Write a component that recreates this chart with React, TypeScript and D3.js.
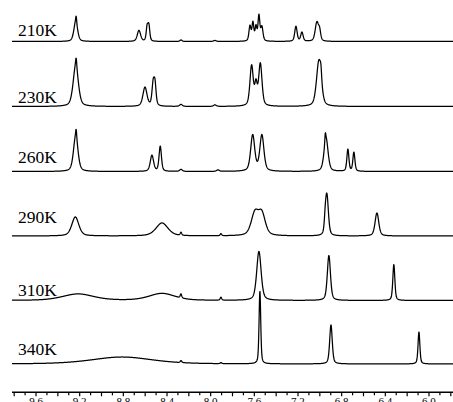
import React from "react";
import * as d3 from "d3";

// Temperatures (spectrum labels), top to bottom
const temperatures = ["210K", "230K", "260K", "290K", "310K", "340K"];

// Peak lists per spectrum: [chemical shift (ppm), intensity, half-width (ppm)]
const peaks210: [number, number, number][] = [
  [9.236, 20, 0.02], [9.232, 6, 0.005],
  [8.657, 11, 0.018],
  [8.582, 14, 0.01], [8.566, 15, 0.01],
  [8.272, 1.5, 0.012], [7.961, 1, 0.015],
  [7.640, 15, 0.011], [7.613, 18, 0.01], [7.585, 14, 0.01], [7.558, 25, 0.01], [7.531, 14, 0.012],
  [7.219, 15, 0.013], [7.164, 9, 0.013], [7.027, 19, 0.018], [7.002, 9, 0.012],
];
const peaks230: [number, number, number][] = [
  [9.236, 41, 0.028], [9.232, 8, 0.006],
  [8.602, 19, 0.022],
  [8.527, 21, 0.013], [8.510, 20, 0.012],
  [8.272, 2, 0.015], [7.961, 1.5, 0.015],
  [7.625, 40, 0.018], [7.585, 20, 0.013], [7.545, 42, 0.018],
  [7.008, 46, 0.026], [6.99, 10, 0.008],
];
const peaks260: [number, number, number][] = [
  [9.236, 36, 0.024], [9.232, 7, 0.005],
  [8.538, 16, 0.018], [8.462, 25, 0.013],
  [8.272, 2, 0.015], [7.933, 1.5, 0.015],
  [7.615, 36, 0.022], [7.531, 36, 0.022],
  [6.943, 33, 0.022], [6.95, 8, 0.005],
  [6.743, 22, 0.011], [6.688, 19, 0.011],
];
const peaks290: [number, number, number][] = [
  [9.240, 19, 0.038],
  [8.446, 13, 0.065],
  [8.272, 3, 0.008], [7.906, 2, 0.008],
  [7.595, 22, 0.04], [7.531, 21, 0.038],
  [6.935, 40, 0.016], [6.95, 10, 0.01],
  [6.477, 23, 0.02],
];
const peaks310: [number, number, number][] = [
  [9.215, 6.5, 0.17],
  [8.446, 7, 0.14],
  [8.272, 4, 0.008], [7.906, 3, 0.008],
  [7.558, 49, 0.024],
  [6.917, 45, 0.017],
  [6.322, 36, 0.011],
];
const peaks340: [number, number, number][] = [
  [8.812, 7, 0.33],
  [8.272, 2, 0.008], [7.906, 1, 0.008],
  [7.549, 73, 0.009],
  [6.898, 39, 0.014],
  [6.092, 32, 0.01],
];

const spectra = [peaks210, peaks230, peaks260, peaks290, peaks310, peaks340];

// Axis ticks (ppm)
const tickLabels = ["9.6", "9.2", "8.8", "8.4", "8.0", "7.6", "7.2", "6.8", "6.4", "6.0"];

const W = 453;
const H = 402;

export default function App() {
  const x = d3.scaleLinear().domain([9.82, 5.78]).range([12, 453]);
  const baselines = [41.5, 106.5, 171.5, 236, 300.5, 364];
  const labelOffsets = [5.5, 4, 9, 13.5, 4.5, 9];
  const y = d3.scaleLinear().domain([0, 100]).range([0, -100]);
  const eta = 0.45;
  const profile = (ppm: number, list: [number, number, number][]) =>
    list.reduce((s, [c, h, w]) => {
      const u = (ppm - c) / w;
      const u2 = u * u;
      return s + h * (eta / (1 + u2) + (1 - eta) * Math.exp(-Math.LN2 * u2));
    }, 0);
  const grid = d3.range(12, 453.2, 0.25).map((px) => x.invert(px));
  const line = d3
    .line<[number, number]>()
    .x((d) => x(d[0]))
    .y((d) => d[1]);

  const axisY = 392.3;
  const minorTicks = d3.range(0, 41).map((i) => 9.8 - i * 0.1).filter((v) => v >= 5.78);

  return (
    <svg
      width={W}
      height={H}
      style={{ position: "absolute", left: 0, top: 0, background: "#fff" }}
    >
      <rect width={W} height={H} fill="#fff" />
      {spectra.map((list, i) => {
        const b = baselines[i];
        const pts: [number, number][] = grid.map((p) => [p, b + y(profile(p, list))]);
        return (
          <g key={i}>
            <path d={line(pts) || ""} fill="none" stroke="#000" strokeWidth={1.25} strokeLinejoin="round" />
            <text
              x={18}
              y={b - labelOffsets[i]}
              fontFamily="'Liberation Serif', 'Times New Roman', serif"
              fontSize={17.5}
              fill="#000"
            >
              {temperatures[i]}
            </text>
          </g>
        );
      })}
      <line x1={12} x2={453} y1={axisY} y2={axisY} stroke="#000" strokeWidth={1.4} />
      {minorTicks.map((v, i) => {
        const major = Math.abs(Math.round(v * 10) % 2) === 0;
        return (
          <line
            key={i}
            x1={x(v)}
            x2={x(v)}
            y1={axisY}
            y2={axisY + (major ? 4 : 3)}
            stroke="#000"
            strokeWidth={1.2}
          />
        );
      })}
      {tickLabels.map((t) => (
        <text
          key={t}
          x={x(+t)}
          y={405}
          textAnchor="middle"
          fontFamily="'Liberation Serif', 'Times New Roman', serif"
          fontSize={11}
          fill="#000"
        >
          {t}
        </text>
      ))}
    </svg>
  );
}
